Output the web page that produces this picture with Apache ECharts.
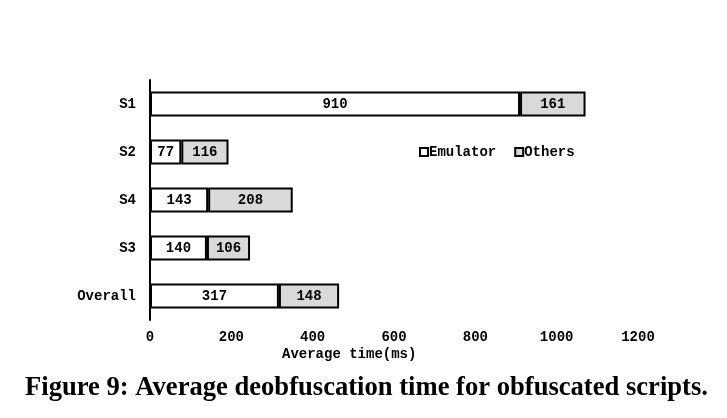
<!DOCTYPE html>
<html><head><meta charset="utf-8">
<script src="https://cdn.jsdelivr.net/npm/echarts@6/dist/echarts.min.js"></script>
<style>html,body{margin:0;padding:0;background:#fff}#c{width:727px;height:418px}</style>
</head><body><div id="c"></div>
<script>
const categories = ['S1', 'S2', 'S4', 'S3', 'Overall'];
const emulator = [910, 77, 143, 140, 317];
const others = [161, 116, 208, 106, 148];
const xTicks = [0, 200, 400, 600, 800, 1000, 1200];
const seriesNames = ['Emulator', 'Others'];

const mono = '"Liberation Mono", "DejaVu Sans Mono", monospace';
const chart = echarts.init(document.getElementById('c'));
chart.setOption({
  animation: false,
  backgroundColor: '#fff',
  grid: { left: 150, right: 89, top: 80, bottom: 98, containLabel: false },
  legend: {
    data: seriesNames,
    left: 414, top: 140,
    itemWidth: 8, itemHeight: 8, itemGap: 18,
    icon: 'rect',
    textStyle: { fontFamily: mono, fontWeight: 'bold', fontSize: 14, color: '#000', padding: [0, 0, 0, -4] }
  },
  xAxis: {
    type: 'value', min: xTicks[0], max: xTicks[xTicks.length - 1], interval: 200,
    axisLine: { show: false }, axisTick: { show: false }, splitLine: { show: false },
    axisLabel: { fontFamily: mono, fontWeight: 'bold', fontSize: 14, color: '#000', margin: 10,
      formatter: v => String(v) }
  },
  yAxis: {
    type: 'category', data: categories, inverse: true,
    axisLine: { show: true, lineStyle: { color: '#000', width: 2 } },
    axisTick: { show: false },
    axisLabel: { fontFamily: mono, fontWeight: 'bold', fontSize: 14, color: '#000', margin: 14 }
  },
  series: [
    {
      name: seriesNames[0], type: 'bar', stack: 't', data: emulator, barWidth: '52%',
      itemStyle: { color: '#ffffff', borderColor: '#000', borderWidth: 2 },
      label: { show: true, position: 'inside', fontFamily: mono, fontWeight: 'bold', fontSize: 14, color: '#000' }
    },
    {
      name: seriesNames[1], type: 'bar', stack: 't', data: others, barWidth: '52%',
      itemStyle: { color: '#d9d9d9', borderColor: '#000', borderWidth: 2 },
      label: { show: true, position: 'inside', fontFamily: mono, fontWeight: 'bold', fontSize: 14, color: '#000' }
    }
  ],
  graphic: [
    { type: 'text', left: 282, top: 347, style: { text: 'Average time(ms)', font: 'bold 14px ' + mono, fill: '#000' } },
    { type: 'text', left: 25, top: 375, style: { text: 'Figure 9: Average deobfuscation time for obfuscated scripts.', font: 'bold 26.6px "Liberation Serif", "DejaVu Serif", serif', fill: '#000' } }
  ]
});
</script></body></html>
